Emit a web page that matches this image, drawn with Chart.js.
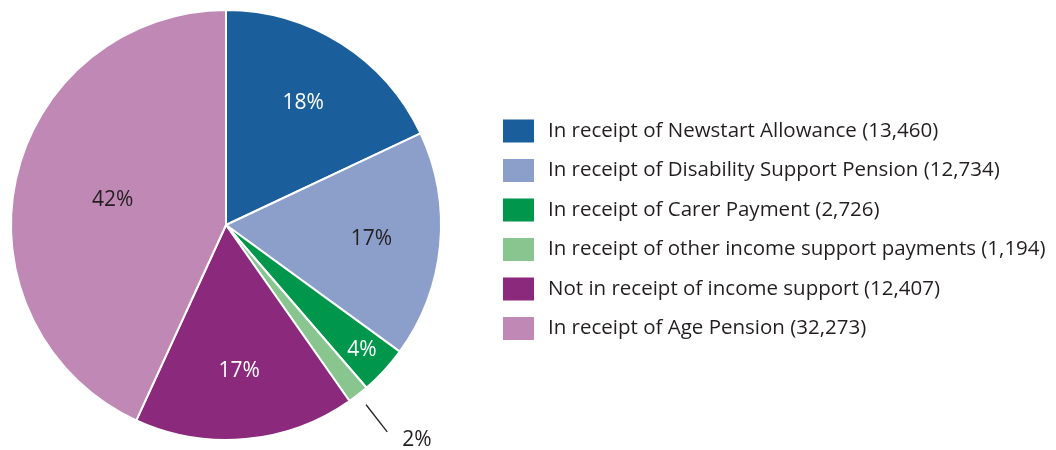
<!DOCTYPE html>
<html>
<head>
<meta charset="utf-8">
<script src="https://cdn.jsdelivr.net/npm/chart.js@4"></script>
<style>
  html, body { margin: 0; padding: 0; background: #fff; }
  #wrap { width: 1056px; height: 450px; position: relative; }
</style>
</head>
<body>
<div id="wrap"><canvas id="pieChart" width="1056" height="450"></canvas></div>
<script>
// Dane z wykresu
var categories = [
    'In receipt of Newstart Allowance (13,460)',
    'In receipt of Disability Support Pension (12,734)',
    'In receipt of Carer Payment (2,726)',
    'In receipt of other income support payments (1,194)',
    'Not in receipt of income support (12,407)',
    'In receipt of Age Pension (32,273)'
];
var counts = [13460, 12734, 2726, 1194, 12407, 32273];
var percentLabels = ['18%', '17%', '4%', '2%', '17%', '42%'];

var sliceColors = ['#1a5f9c', '#8c9fcb', '#00964b', '#89c58f', '#8b2a7c', '#c088b4'];
var labelColors = ['#ffffff', '#231f20', '#ffffff', '#231f20', '#ffffff', '#231f20'];
// odleglosc etykiety od srodka (ulamek promienia); -1 = etykieta na zewnatrz z linia
var labelRadius = [0.67, 0.68, 0.86, -1, 0.68, 0.54];

var FONT = '"Open Sans", "Noto Sans", sans-serif';

// Etykiety procentowe na wycinkach
var sliceLabels = {
    id: 'sliceLabels',
    afterDatasetsDraw: function(chart) {
        var ctx = chart.ctx;
        var meta = chart.getDatasetMeta(0);
        ctx.save();
        ctx.font = '21px ' + FONT;
        meta.data.forEach(function(arc, i) {
            var mid = (arc.startAngle + arc.endAngle) / 2;
            var r = arc.outerRadius;
            if (labelRadius[i] < 0) {
                var x1 = arc.x + Math.cos(mid) * r * 1.06;
                var y1 = arc.y + Math.sin(mid) * r * 1.06;
                var x2 = arc.x + Math.cos(mid) * r * 1.22;
                var y2 = arc.y + Math.sin(mid) * r * 1.22;
                ctx.strokeStyle = '#231f20';
                ctx.lineWidth = 1.3;
                ctx.beginPath();
                ctx.moveTo(x1, y1);
                ctx.lineTo(x2, y2);
                ctx.stroke();
                ctx.fillStyle = labelColors[i];
                ctx.textAlign = 'left';
                ctx.textBaseline = 'middle';
                ctx.fillText(percentLabels[i], x2 + 15, y2 + 8);
            } else {
                var x = arc.x + Math.cos(mid) * r * labelRadius[i];
                var y = arc.y + Math.sin(mid) * r * labelRadius[i];
                ctx.fillStyle = labelColors[i];
                ctx.textAlign = 'center';
                ctx.textBaseline = 'middle';
                ctx.fillText(percentLabels[i], x, y);
            }
        });
        ctx.restore();
    }
};

// Legenda po prawej stronie
var sideLegend = {
    id: 'sideLegend',
    afterDraw: function(chart) {
        var ctx = chart.ctx;
        ctx.save();
        ctx.font = '20.5px ' + FONT;
        ctx.textAlign = 'left';
        ctx.textBaseline = 'middle';
        categories.forEach(function(label, i) {
            var y = 131 + i * 39.5;
            ctx.fillStyle = sliceColors[i];
            ctx.fillRect(503, y - 11.5, 31, 23);
            ctx.fillStyle = '#231f20';
            ctx.fillText(label, 548, y);
        });
        ctx.restore();
    }
};

var ctx = document.getElementById('pieChart').getContext('2d');
var pieChart = new Chart(ctx, {
    type: 'pie',
    data: {
        labels: categories,
        datasets: [{
            data: counts,
            backgroundColor: sliceColors,
            borderColor: '#ffffff',
            borderWidth: 2
        }]
    },
    options: {
        responsive: false,
        animation: false,
        layout: {
            padding: { left: 10, right: 614, top: 9, bottom: 9 }
        },
        plugins: {
            legend: { display: false },
            tooltip: { enabled: false }
        }
    },
    plugins: [sliceLabels, sideLegend]
});
</script>
</body>
</html>
